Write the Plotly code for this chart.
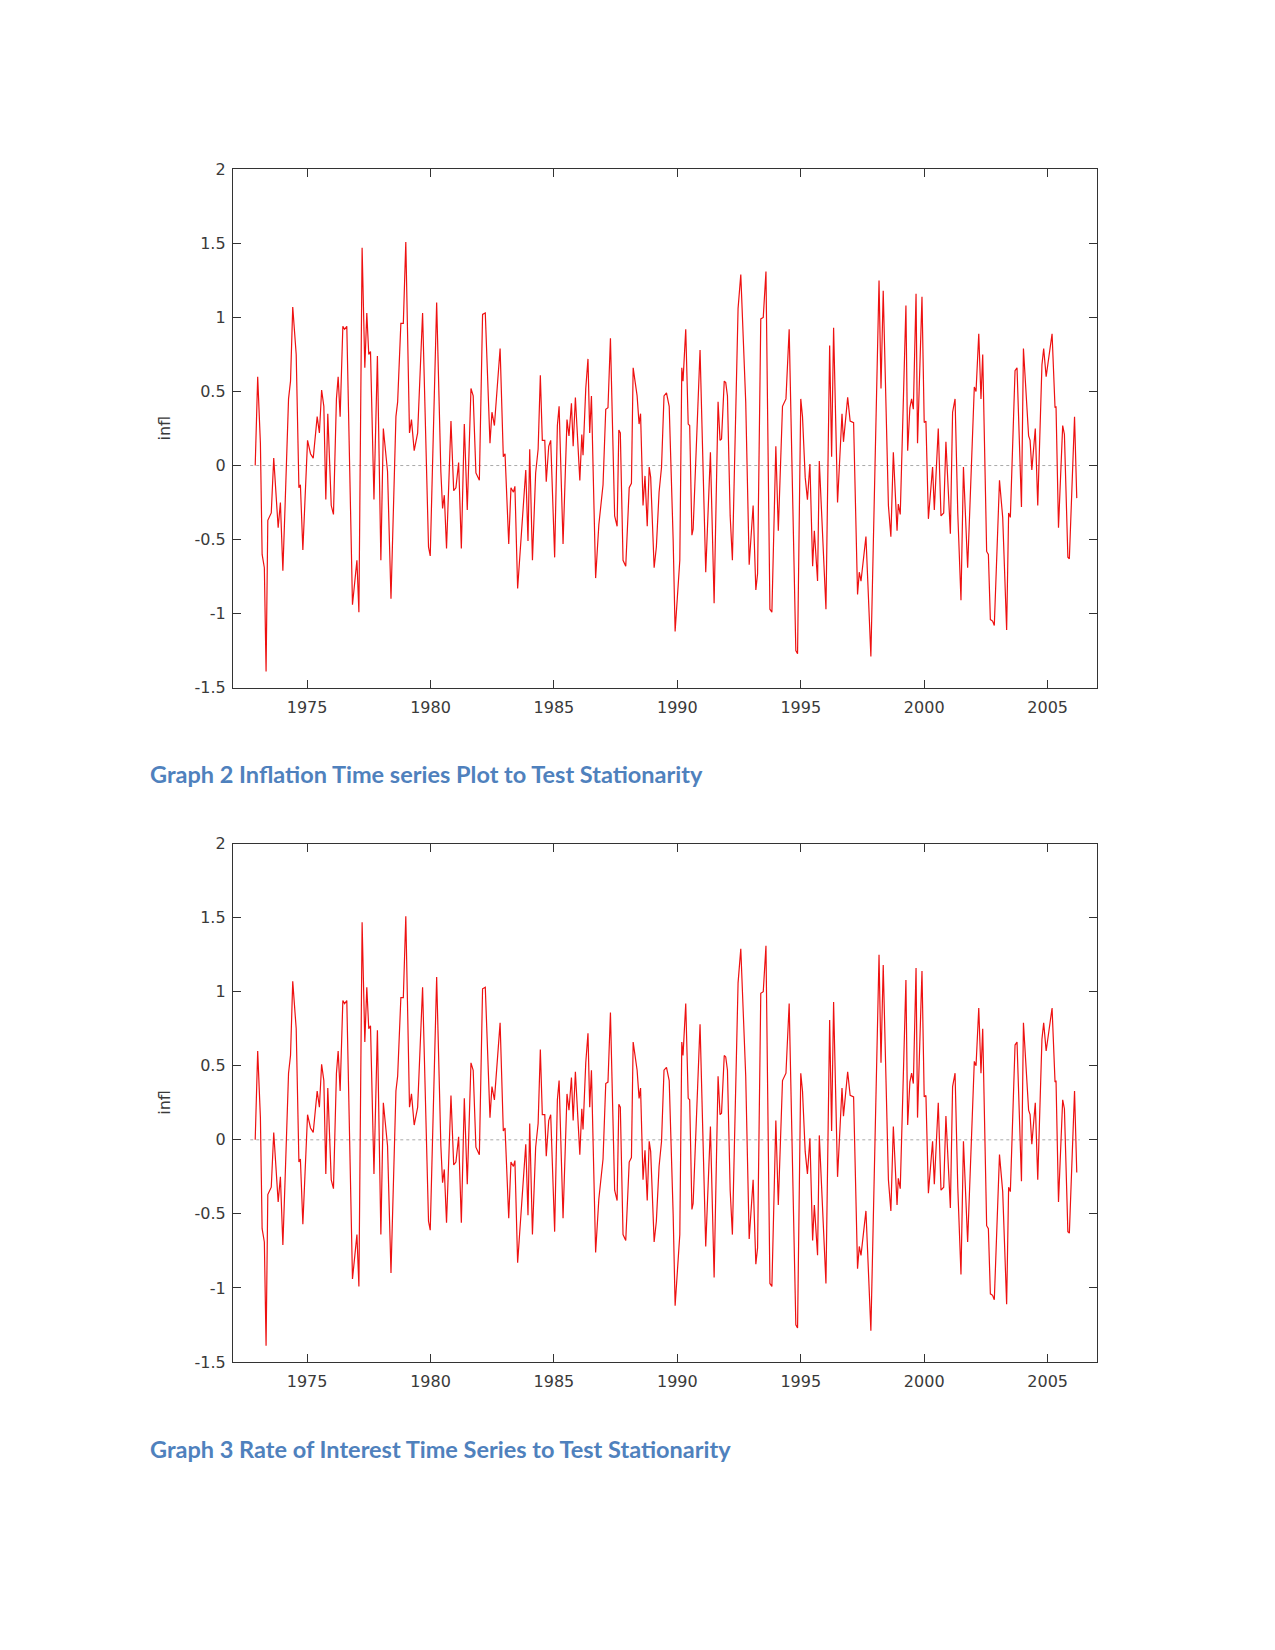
import plotly.graph_objects as go

# ---- data (fractional year, inflation) ----
dates = [
    1972.90, 1973.00, 1973.11, 1973.18, 1973.27, 1973.34, 1973.41, 1973.55, 1973.65, 1973.83,
    1973.92, 1974.02, 1974.11, 1974.25, 1974.33, 1974.42, 1974.56, 1974.67, 1974.73, 1974.83,
    1975.02, 1975.14, 1975.25, 1975.41, 1975.50, 1975.59, 1975.68, 1975.76, 1975.84, 1975.98,
    1976.07, 1976.19, 1976.26, 1976.34, 1976.45, 1976.52, 1976.61, 1976.84, 1977.02, 1977.10,
    1977.23, 1977.34, 1977.42, 1977.50, 1977.57, 1977.71, 1977.85,
    1977.99, 1978.09, 1978.26, 1978.40, 1978.60, 1978.67, 1978.80, 1978.90, 1979.00, 1979.15,
    1979.23, 1979.34, 1979.48, 1979.68, 1979.82, 1979.92, 1979.99, 1980.25, 1980.42, 1980.49,
    1980.56, 1980.65, 1980.83, 1980.94, 1981.03, 1981.14, 1981.25, 1981.37, 1981.49, 1981.64,
    1981.73, 1981.84, 1981.98, 1982.11, 1982.22, 1982.41, 1982.49, 1982.59, 1982.82, 1982.95,
    1983.02, 1983.17, 1983.26, 1983.36, 1983.42, 1983.53,
    1983.86, 1983.95, 1984.02, 1984.13, 1984.26, 1984.36, 1984.45, 1984.53, 1984.63, 1984.69,
    1984.79, 1984.87, 1985.03, 1985.14, 1985.21, 1985.37, 1985.53, 1985.61, 1985.71, 1985.78,
    1985.87, 1985.98, 1986.05, 1986.13, 1986.18, 1986.29, 1986.38, 1986.45, 1986.52, 1986.69,
    1986.82, 1986.99, 1987.10, 1987.19, 1987.29, 1987.46, 1987.56, 1987.63, 1987.69, 1987.80,
    1987.91, 1988.05, 1988.14, 1988.21, 1988.32, 1988.37, 1988.45, 1988.51, 1988.61, 1988.69,
    1988.78, 1988.86, 1988.92, 1989.06, 1989.15, 1989.26, 1989.36, 1989.46, 1989.56,
    1989.67, 1989.83, 1989.91, 1990.10, 1990.18, 1990.23, 1990.34, 1990.44, 1990.50, 1990.59,
    1990.64, 1990.92, 1991.15, 1991.34, 1991.49, 1991.65, 1991.73, 1991.79, 1991.90, 1991.96,
    1992.03, 1992.14, 1992.23, 1992.46, 1992.57, 1992.77, 1992.91, 1993.07, 1993.18, 1993.25,
    1993.38, 1993.48, 1993.59, 1993.75, 1993.83, 1993.99, 1994.09, 1994.26, 1994.40, 1994.53,
    1994.80, 1994.87, 1995.00, 1995.07, 1995.18, 1995.27, 1995.37, 1995.48,
    1995.55, 1995.68, 1995.75, 1996.02, 1996.17, 1996.25, 1996.33, 1996.49, 1996.67, 1996.73,
    1996.90, 1997.00, 1997.14, 1997.30, 1997.37, 1997.44, 1997.64, 1997.84, 1998.17, 1998.25,
    1998.34, 1998.55, 1998.65, 1998.75, 1998.90, 1998.95, 1999.03, 1999.26, 1999.33, 1999.42,
    1999.49, 1999.56, 1999.67, 1999.73, 1999.91, 2000.00, 2000.07, 2000.17, 2000.34, 2000.41,
    2000.57, 2000.68, 2000.79, 2000.88, 2001.06, 2001.15, 2001.25,
    2001.36, 2001.49, 2001.59, 2001.76, 2002.03, 2002.10, 2002.21, 2002.30, 2002.37, 2002.53,
    2002.60, 2002.68, 2002.77, 2002.84, 2003.05, 2003.18, 2003.34, 2003.42, 2003.49, 2003.68,
    2003.76, 2003.94, 2004.02, 2004.23, 2004.29, 2004.36, 2004.50, 2004.60, 2004.77, 2004.84,
    2004.94, 2005.00, 2005.18, 2005.30, 2005.34, 2005.44, 2005.61, 2005.68, 2005.82, 2005.88,
    2006.09, 2006.18,
]

infl = [
    0.00, 0.60, 0.15, -0.60, -0.69, -1.39, -0.37, -0.32, 0.05, -0.42,
    -0.25, -0.71, -0.27, 0.45, 0.57, 1.07, 0.75, -0.15, -0.13, -0.57,
    0.17, 0.08, 0.05, 0.33, 0.22, 0.51, 0.40, -0.23, 0.35, -0.27,
    -0.33, 0.45, 0.60, 0.33, 0.94, 0.92, 0.94, -0.94, -0.64, -0.99,
    1.47, 0.66, 1.03, 0.75, 0.77, -0.23, 0.74,
    -0.64, 0.25, -0.04, -0.90, 0.33, 0.43, 0.96, 0.96, 1.51, 0.22,
    0.31, 0.10, 0.22, 1.03, 0.20, -0.55, -0.61, 1.10, -0.04, -0.29,
    -0.20, -0.56, 0.30, -0.17, -0.15, 0.02, -0.56, 0.28, -0.30, 0.52,
    0.47, -0.05, -0.10, 1.02, 1.03, 0.15, 0.36, 0.27, 0.79, 0.06,
    0.08, -0.53, -0.15, -0.18, -0.14, -0.83,
    -0.03, -0.51, 0.11, -0.64, -0.05, 0.11, 0.61, 0.17, 0.17, -0.11,
    0.13, 0.17, -0.62, 0.27, 0.40, -0.53, 0.31, 0.20, 0.42, 0.13,
    0.46, 0.08, -0.10, 0.21, 0.07, 0.52, 0.72, 0.22, 0.47, -0.76,
    -0.40, -0.13, 0.38, 0.39, 0.86, -0.34, -0.41, 0.24, 0.22, -0.64,
    -0.68, -0.15, -0.12, 0.66, 0.50, 0.47, 0.28, 0.35, -0.27, -0.07,
    -0.41, -0.01, -0.08, -0.69, -0.55, -0.18, -0.01, 0.47, 0.49,
    0.40, -0.50, -1.12, -0.64, 0.66, 0.57, 0.92, 0.28, 0.27, -0.47,
    -0.43, 0.78, -0.72, 0.09, -0.93, 0.43, 0.17, 0.18, 0.57, 0.56,
    0.47, -0.34, -0.64, 1.06, 1.29, 0.43, -0.67, -0.27, -0.84, -0.73,
    0.99, 1.00, 1.31, -0.97, -0.99, 0.13, -0.44, 0.40, 0.45, 0.92,
    -1.25, -1.27, 0.45, 0.33, -0.08, -0.23, 0.01, -0.68,
    -0.44, -0.78, 0.03, -0.97, 0.81, 0.06, 0.93, -0.25, 0.35, 0.16,
    0.46, 0.30, 0.29, -0.87, -0.72, -0.78, -0.48, -1.29, 1.25, 0.52,
    1.18, -0.27, -0.48, 0.09, -0.44, -0.26, -0.33, 1.08, 0.10, 0.39,
    0.45, 0.38, 1.16, 0.15, 1.14, 0.29, 0.30, -0.36, -0.01, -0.30,
    0.25, -0.34, -0.32, 0.16, -0.46, 0.36, 0.45,
    -0.32, -0.91, -0.01, -0.69, 0.53, 0.50, 0.89, 0.45, 0.75, -0.58,
    -0.60, -1.04, -1.05, -1.08, -0.10, -0.35, -1.11, -0.32, -0.35, 0.64,
    0.66, -0.28, 0.79, 0.20, 0.17, -0.03, 0.25, -0.27, 0.68, 0.79,
    0.60, 0.68, 0.89, 0.39, 0.40, -0.42, 0.27, 0.21, -0.62, -0.63,
    0.33, -0.22,
]

y_tick_vals = [-1.5, -1, -0.5, 0, 0.5, 1, 1.5, 2]
y_tick_text = ["-1.5", "-1", "-0.5", "0", "0.5", "1", "1.5", "2"]
x_tick_vals = [1975, 1980, 1985, 1990, 1995, 2000, 2005]
x_tick_text = ["1975", "1980", "1985", "1990", "1995", "2000", "2005"]
y_title = "infl"
captions = [
    "Graph 2 Inflation Time series Plot to Test Stationarity",
    "Graph 3 Rate of Interest Time Series to Test Stationarity",
]

# ---- page geometry (pixels, as laid out in the figure) ----
W, H = 1275, 1650
plot_left, plot_right = 233, 1097
panels = [(162.2, 686.6), (844.4, 1368.7)]
caption_y = [773.6, 1457.2]
caption_x = 148
ytitle_x = 165

LINE_RED = "#ee1111"
AXIS_COL = "#333333"
TXT_COL = "#3a3a3a"
CAP_COL = "#4f81bd"

fig = go.Figure()
shapes = []
annotations = []

for i, (top, bottom) in enumerate(panels):
    sfx = "" if i == 0 else str(i + 1)
    xa, ya = "x" + sfx, "y" + sfx
    fig.add_trace(go.Scatter(
        x=dates, y=infl, mode="lines",
        line=dict(color=LINE_RED, width=1.2),
        xaxis=xa, yaxis=ya, showlegend=False, hoverinfo="skip",
    ))
    axis_common = dict(
        showline=True, linecolor=AXIS_COL, linewidth=1.3, mirror="ticks",
        ticks="inside", ticklen=8, tickwidth=1.2, tickcolor=AXIS_COL,
        showgrid=False, zeroline=False,
        tickfont=dict(family="DejaVu Sans", size=16, color=TXT_COL),
    )
    fig.update_layout(**{
        "xaxis" + sfx: dict(
            axis_common, domain=[plot_left / W, plot_right / W],
            range=[1972, 2007], tickvals=x_tick_vals, ticktext=x_tick_text,
            anchor=ya, ticklabelstandoff=5,
        ),
        "yaxis" + sfx: dict(
            axis_common, domain=[1 - bottom / H, 1 - top / H],
            range=[-1.5, 2], tickvals=y_tick_vals, ticktext=y_tick_text,
            anchor=xa, ticklabelstandoff=3,
        ),
    })
    shapes.append(dict(
        type="line", xref=xa + " domain", yref=ya, x0=0.02, x1=0.98, y0=0, y1=0,
        line=dict(color="#aaaaaa", width=1, dash="dot"), layer="below",
    ))
    annotations.append(dict(
        text=y_title, xref="paper", yref="paper",
        x=ytitle_x / W, y=1 - (top + bottom) / 2 / H,
        xanchor="center", yanchor="middle", textangle=-90, showarrow=False,
        font=dict(family="DejaVu Sans", size=16, color=TXT_COL),
    ))
    annotations.append(dict(
        text="<b>" + captions[i] + "</b>", xref="paper", yref="paper",
        x=caption_x / W, y=1 - caption_y[i] / H, xanchor="left", yanchor="middle",
        showarrow=False,
        font=dict(family="Lato", size=23.5, color=CAP_COL),
    ))

fig.update_layout(
    width=W, height=H, margin=dict(l=0, r=0, t=0, b=0),
    paper_bgcolor="white", plot_bgcolor="white",
    shapes=shapes, annotations=annotations, showlegend=False,
)

fig.write_html(
    "out.html",
    config={"displayModeBar": False},
    post_script="document.body.style.margin='0px';",
)
